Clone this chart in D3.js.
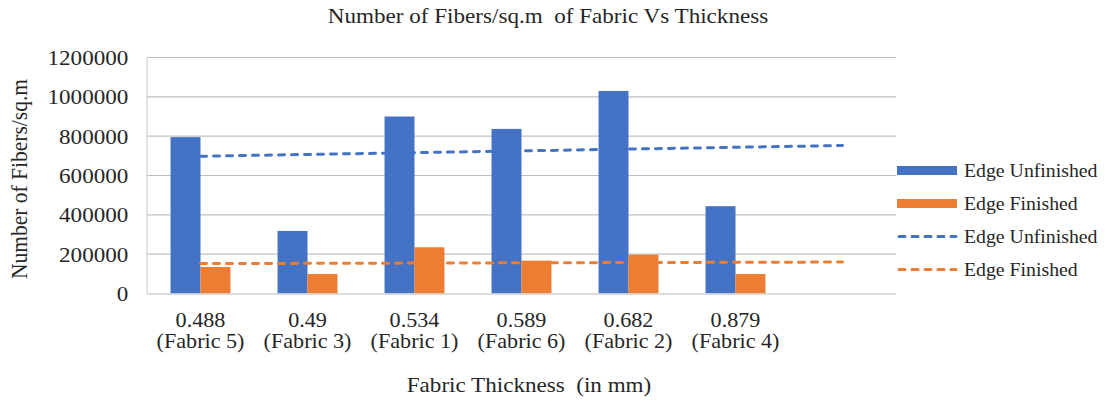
<!DOCTYPE html>
<html>
<head>
<meta charset="utf-8">
<script src="https://cdn.jsdelivr.net/npm/d3@7"></script>
<style>
  body { margin: 0; background: #fff; }
  text { font-family: "Liberation Serif", "Times New Roman", "DejaVu Serif", serif; fill: #262626; }
</style>
</head>
<body>
<svg width="1108" height="404"></svg>
<script>
// chart data
var thickness = ["0.488", "0.49", "0.534", "0.589", "0.682", "0.879"];
var fabrics = ["(Fabric 5)", "(Fabric 3)", "(Fabric 1)", "(Fabric 6)", "(Fabric 2)", "(Fabric 4)"];
var edgeUnfinished = [795000, 318000, 900000, 837000, 1030000, 444000];
var edgeFinished = [135000, 99000, 235000, 167000, 197000, 99000];
var yTicks = [0, 200000, 400000, 600000, 800000, 1000000, 1200000];
var seriesNames = ["Edge Unfinished", "Edge Finished"];
var seriesColors = ["#4472c4", "#ed7d31"];
var forecastForward = 1; // excel trendline goes one period past the data

var svg = d3.select("svg");
var stretch = "scale(1.1,1)";

// note: "top" is taken by window.top, so plot edges get their own names
var plotLeft = 147, plotRight = 896, plotTop = 57.5, plotBottom = 293.5;

// one extra empty slot at the end for the trendline forecast
var slots = d3.range(thickness.length + forecastForward);

var x0 = d3.scaleBand()
    .domain(slots)
    .range([plotLeft, plotRight])
    .paddingInner(0.44)
    .paddingOuter(0.22);

var x1 = d3.scaleBand()
    .domain([0, 1])
    .range([0, x0.bandwidth()]);

var y = d3.scaleLinear()
    .domain([0, 1200000])
    .range([plotBottom, plotTop]);

// gridlines
svg.append("g")
    .selectAll("line")
    .data(yTicks.slice(1))
    .join("line")
    .attr("x1", plotLeft)
    .attr("x2", plotRight)
    .attr("y1", function(d) { return y(d); })
    .attr("y2", function(d) { return y(d); })
    .attr("stroke", "#bfbfbf")
    .attr("stroke-width", 1.2);

// left axis line
svg.append("line")
    .attr("x1", plotLeft).attr("x2", plotLeft)
    .attr("y1", plotTop).attr("y2", plotBottom)
    .attr("stroke", "#c8c8c8")
    .attr("stroke-width", 1);

// y axis labels
var yAxis = svg.append("g")
    .attr("transform", "translate(" + plotLeft + ",0)")
    .call(d3.axisLeft(y).tickValues(yTicks).tickSize(0).tickFormat(d3.format("d")));
yAxis.select(".domain").remove();
yAxis.attr("font-family", null).attr("font-size", null);
yAxis.selectAll("text")
    .attr("x", -17)
    .attr("dy", "0.33em")
    .attr("transform", stretch)
    .style("font-size", "21px")
    .attr("fill", "#262626");

// bars
var rows = thickness.map(function(t, i) {
  return [edgeUnfinished[i], edgeFinished[i]];
});

svg.append("g")
    .selectAll("g")
    .data(rows)
    .join("g")
    .attr("transform", function(d, i) { return "translate(" + x0(i) + ",0)"; })
    .selectAll("rect")
    .data(function(d) { return d; })
    .join("rect")
    .attr("x", function(d, j) { return x1(j); })
    .attr("width", x1.bandwidth())
    .attr("y", function(d) { return y(d); })
    .attr("height", function(d) { return plotBottom - y(d); })
    .attr("fill", function(d, j) { return seriesColors[j]; });

// x axis line
svg.append("line")
    .attr("x1", plotLeft).attr("x2", plotRight)
    .attr("y1", plotBottom + 0.5).attr("y2", plotBottom + 0.5)
    .attr("stroke", "#d0d0d0")
    .attr("stroke-width", 1.5);

// linear trendlines (least squares over positions 1..n, like excel)
function trend(values) {
  var xs = values.map(function(v, i) { return i + 1; });
  var mx = d3.mean(xs), my = d3.mean(values);
  var sxy = d3.sum(values, function(v, i) { return (xs[i] - mx) * (v - my); });
  var sxx = d3.sum(xs, function(v) { return (v - mx) * (v - mx); });
  var slope = sxy / sxx, icpt = my - slope * mx;
  return [0, slots.length - 1].map(function(i) { return [i, icpt + slope * (i + 1)]; });
}

var line = d3.line()
    .x(function(d) { return x0(d[0]) + x0.bandwidth() / 2; })
    .y(function(d) { return y(d[1]); });

[edgeUnfinished, edgeFinished].forEach(function(vals, j) {
  svg.append("path")
      .attr("d", line(trend(vals)))
      .attr("fill", "none")
      .attr("stroke", seriesColors[j])
      .attr("stroke-width", 3)
      .attr("stroke-dasharray", "6,7")
      .attr("stroke-linecap", "round");
});

// category labels (two lines)
var xl = svg.append("g")
    .selectAll("text")
    .data(thickness)
    .join("text")
    .attr("transform", function(d, i) { return "translate(" + (x0(i) + x0.bandwidth() / 2) + ",327) scale(1.08,1)"; })
    .attr("text-anchor", "middle")
    .style("font-size", "20.5px");
xl.append("tspan").attr("x", 0).attr("y", 0).text(function(d) { return d; });
xl.append("tspan").attr("x", 0).attr("y", 21).text(function(d, i) { return fabrics[i]; });

// titles
svg.append("text")
    .attr("transform", "translate(548,23) " + stretch)
    .attr("text-anchor", "middle")
    .style("font-size", "21px")
    .style("white-space", "pre")
    .text("Number of Fibers/sq.m  of Fabric Vs Thickness");

svg.append("text")
    .attr("transform", "translate(529,392) " + stretch)
    .attr("text-anchor", "middle")
    .style("font-size", "21px")
    .style("white-space", "pre")
    .text("Fabric Thickness  (in mm)");

svg.append("text")
    .attr("transform", "translate(27,179) " + stretch + " rotate(-90)")
    .attr("text-anchor", "middle")
    .style("font-size", "21.5px")
    .text("Number of Fibers/sq.m");

// legend
var legendY = [170.5, 203.5, 236.5, 269.5];
var legend = svg.append("g");
seriesNames.forEach(function(name, j) {
  legend.append("rect")
      .attr("x", 897).attr("y", legendY[j] - 4.5)
      .attr("width", 60).attr("height", 9)
      .attr("fill", seriesColors[j]);
  legend.append("line")
      .attr("x1", 899).attr("x2", 956)
      .attr("y1", legendY[j + 2]).attr("y2", legendY[j + 2])
      .attr("stroke", seriesColors[j])
      .attr("stroke-width", 3)
      .attr("stroke-dasharray", "6,7")
      .attr("stroke-linecap", "round");
});
legend.selectAll("text")
    .data(seriesNames.concat(seriesNames))
    .join("text")
    .attr("transform", function(d, i) { return "translate(964," + (legendY[i] + 6) + ") " + stretch; })
    .style("font-size", "18px")
    .text(function(d) { return d; });
</script>
</body>
</html>
